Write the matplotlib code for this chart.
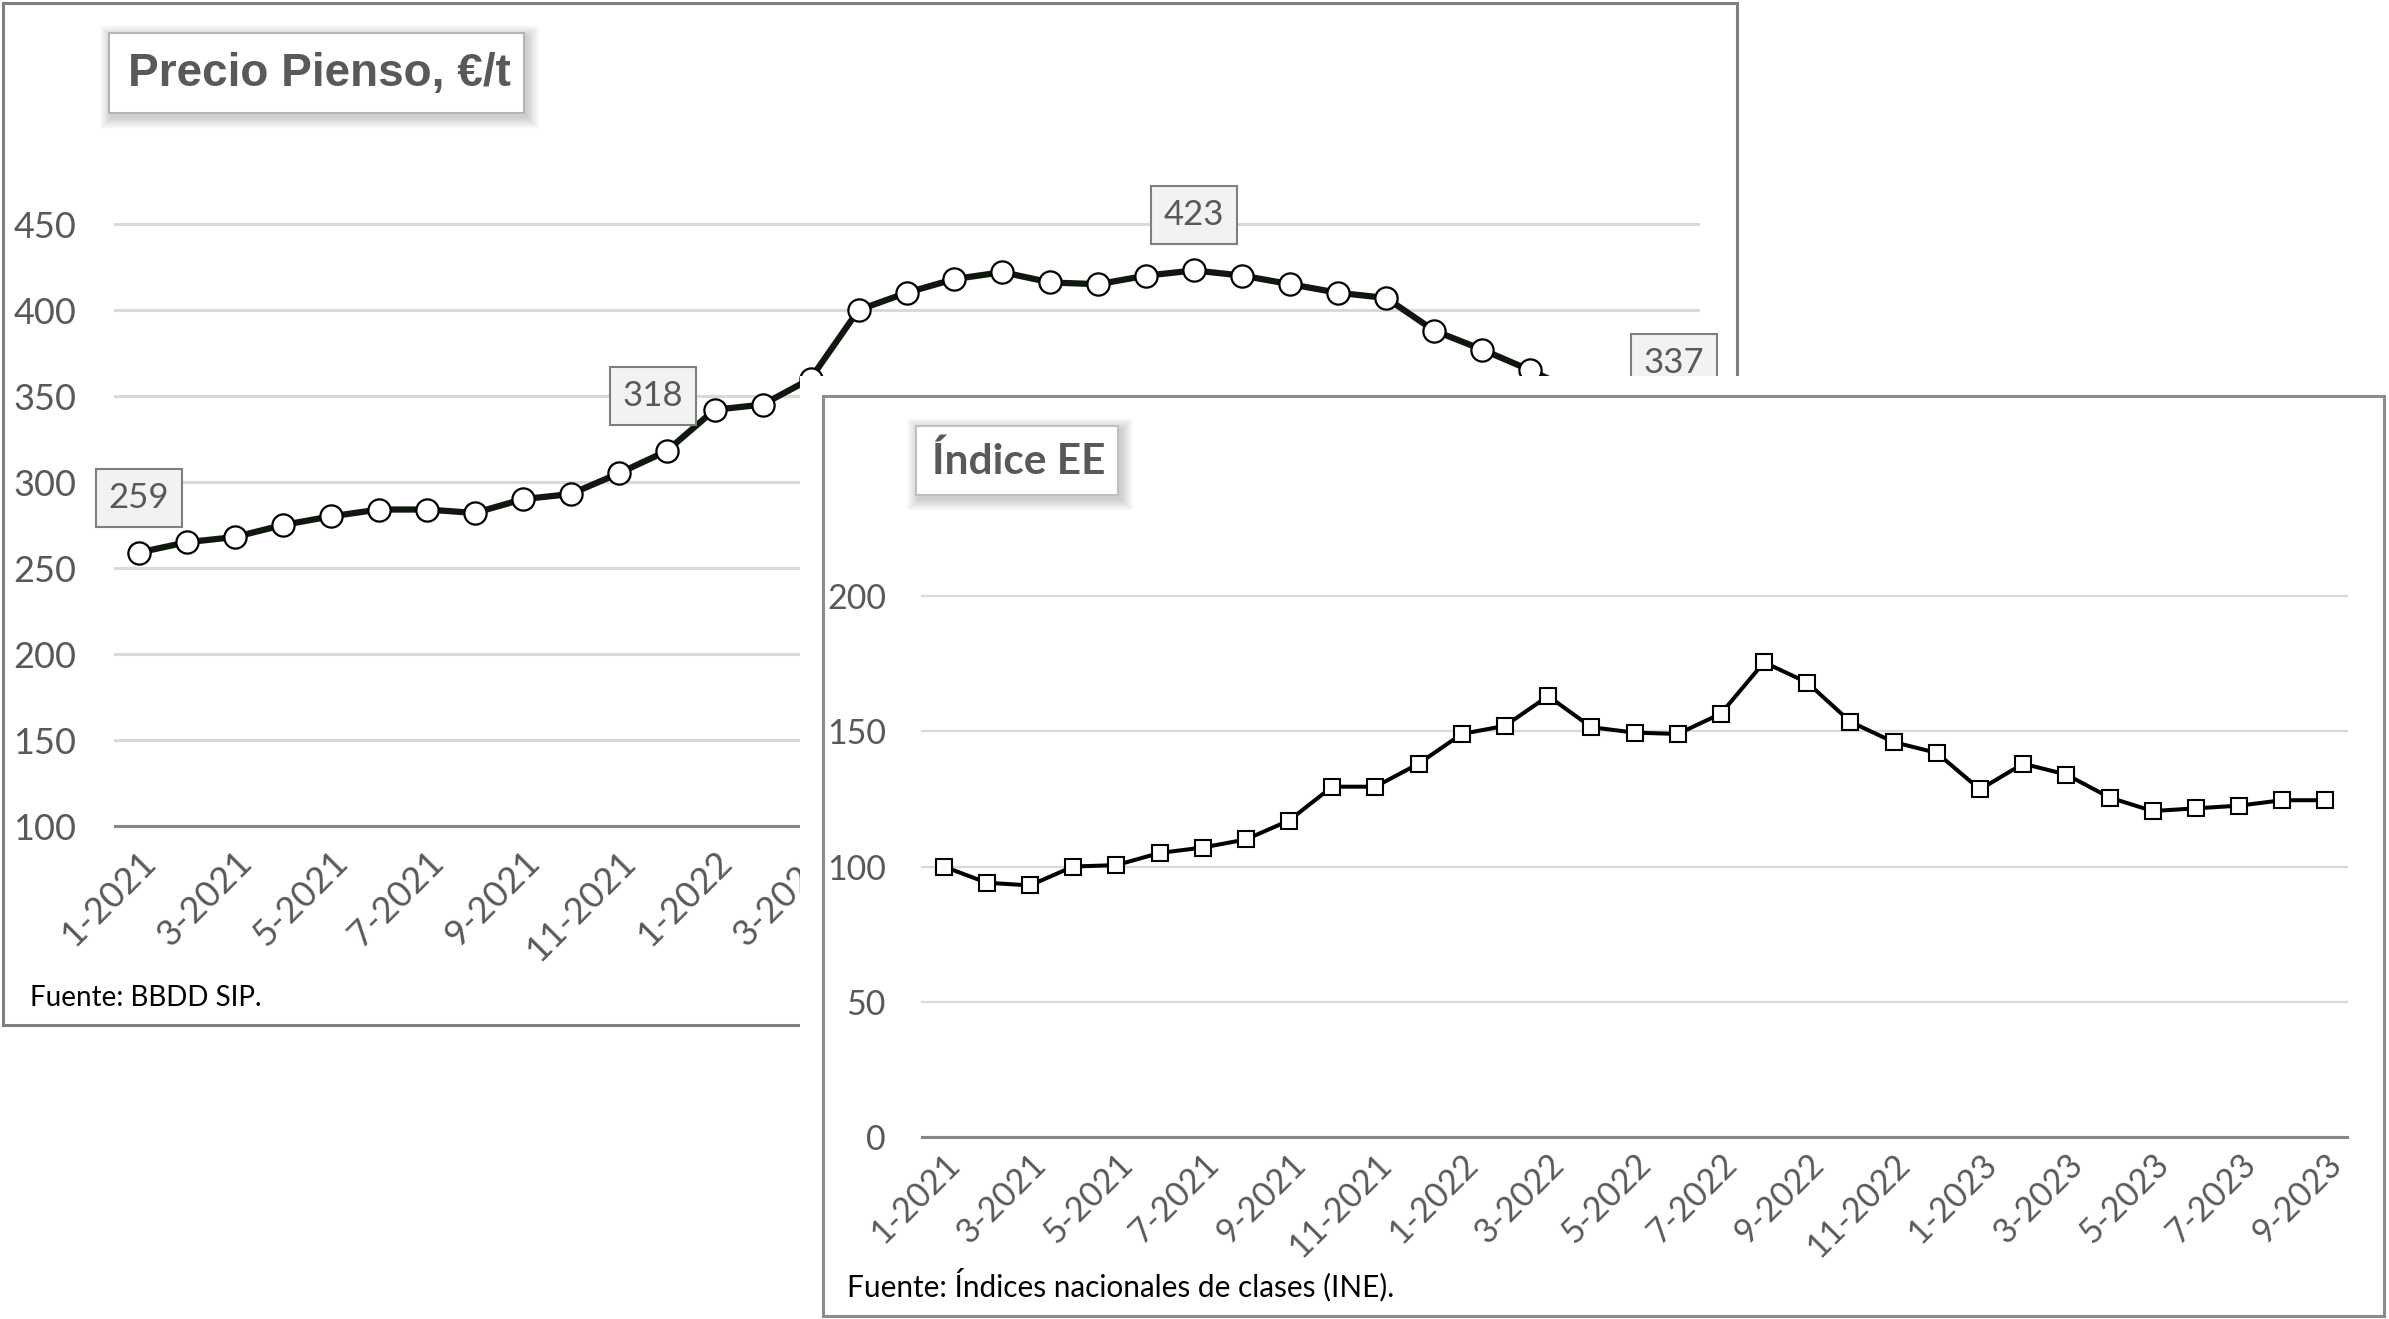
import matplotlib
matplotlib.use("Agg")
import matplotlib.pyplot as plt
from matplotlib.patches import Rectangle

W, H = 2389, 1319

# datos (enero 2021 - septiembre 2023)
precio_pienso = [259, 265, 268, 275, 280, 284, 284, 282, 290, 293, 305, 318,
                 342, 345, 360, 400, 410, 418, 422, 416, 415, 420, 423, 420,
                 415, 410, 407, 388, 377, 365, 352, 344, 337]
indice_ee = [100, 94, 93, 100, 100.5, 105, 107, 110, 117, 129.5, 129.5, 138,
             149, 152, 163, 151.5, 149.5, 149, 156.5, 175.5, 168, 153.5, 146, 142,
             128.5, 138, 134, 125.5, 120.5, 121.5, 122.5, 124.5, 124.5]
tick_labels = ["1-2021", "3-2021", "5-2021", "7-2021", "9-2021", "11-2021",
               "1-2022", "3-2022", "5-2022", "7-2022", "9-2022", "11-2022",
               "1-2023", "3-2023", "5-2023", "7-2023", "9-2023"]
pienso_etiquetas = [0, 11, 22, 32]   # puntos con etiqueta de dato
pienso_yticks = [100, 150, 200, 250, 300, 350, 400, 450]
ee_yticks = [0, 50, 100, 150, 200]

GRIS_TXT = "#595959"
FUENTE = "Lato"


def px_rect(x0, y0, x1, y1):
    # pixeles (origen arriba-izquierda) -> fraccion de figura
    return [x0 / W, 1 - y1 / H, (x1 - x0) / W, (y1 - y0) / H]


fig = plt.figure(figsize=(W / 100, H / 100), dpi=100)


def caja(x0, y0, x1, y1, z, face="white", edge="none", lw=0, sombra=False):
    if sombra:
        for k in range(12, 0, -1):
            fig.add_artist(Rectangle(((x0 - k + 3) / W, 1 - (y1 + k + 4) / H),
                                     (x1 - x0 + 2 * k) / W, (y1 - y0 + 2 * k) / H,
                                     transform=fig.transFigure, facecolor="black",
                                     alpha=0.014, edgecolor="none", zorder=z))
    fig.add_artist(Rectangle((x0 / W, 1 - y1 / H), (x1 - x0) / W, (y1 - y0) / H,
                             transform=fig.transFigure, facecolor=face,
                             edgecolor=edge, linewidth=lw, zorder=z))


def ejes(ax, n, yticks, size, ypad, xpad, gridw):
    ax.set_xlim(-0.5, n - 0.5)
    ax.set_ylim(yticks[0], yticks[-1])
    ax.patch.set_visible(False)
    for s in ["top", "right", "left"]:
        ax.spines[s].set_visible(False)
    ax.spines["bottom"].set_color("#868686")
    ax.spines["bottom"].set_linewidth(2.2)
    ax.set_yticks(yticks)
    ax.set_yticklabels([str(v) for v in yticks], fontfamily=FUENTE, fontsize=size, color=GRIS_TXT)
    ax.set_xticks(range(0, n, 2))
    ax.set_xticklabels(tick_labels, rotation=45, ha="right", va="top",
                       rotation_mode="anchor", fontfamily=FUENTE, fontsize=size, color=GRIS_TXT)
    ax.tick_params(axis="y", length=0, pad=ypad)
    ax.tick_params(axis="x", length=0, pad=xpad)
    ax.grid(axis="y", color="#d9d9d9", linewidth=gridw)
    ax.set_axisbelow(True)
    for gl in ax.get_ygridlines():
        gl.set_clip_on(False)


# ---------------- grafico de atras: Precio Pienso ----------------
ax1 = fig.add_axes(px_rect(115, 224, 1698, 826), zorder=1)
ax1.plot(range(len(precio_pienso)), precio_pienso, color="#0f170f", lw=4.5,
         marker="o", ms=16, mfc="white", mec="black", mew=1.6, clip_on=False, zorder=3)
ejes(ax1, len(precio_pienso), pienso_yticks, 26, 28, 14, 2.2)

caja(3, 3, 1737, 1025, 1.1, face="none", edge="#808080", lw=2.2)
caja(109, 33, 524, 113, 1.3, edge="#b4b4b4", lw=1.5, sombra=True)
fig.text(128 / W, 1 - 74 / H, "Precio Pienso, €/t", family="Liberation Sans",
         weight="bold", size=33, color=GRIS_TXT, va="center", ha="left", zorder=1.4)
fig.text(30 / W, 1 - 1006 / H, "Fuente: BBDD SIP.", family=FUENTE, size=20,
         color="black", va="baseline", ha="left", zorder=1.4)

# la etiqueta del punto 11 esta algo desplazada a la izquierda en el original
desplaza = {11: -14}
for i in pienso_etiquetas:
    cx, cy = ax1.transData.transform((i, precio_pienso[i]))
    cx += desplaza.get(i, 0)
    cy += 55
    fig.add_artist(Rectangle(((cx - 43) / W, (cy - 29) / H), 86 / W, 58 / H,
                             transform=fig.transFigure, facecolor="#f2f2f2",
                             edgecolor="#7f7f7f", linewidth=1.5, zorder=1.5))
    fig.text(cx / W, cy / H, str(precio_pienso[i]), ha="center", va="center",
             family=FUENTE, size=25, color=GRIS_TXT, zorder=1.6)

# ---------------- grafico de delante: Indice EE ----------------
caja(800, 376, W, H, 2)
caja(823, 396, 2384, 1316, 2.1, face="none", edge="#8c8c8c", lw=2.2)
caja(916, 426, 1118, 495, 2.2, edge="#c0c0c0", lw=1.5, sombra=True)
fig.text(932 / W, 1 - 461 / H, "Índice EE", family=FUENTE, weight="bold",
         size=30.5, color=GRIS_TXT, va="center", ha="left", zorder=2.3)
fig.text(847 / W, 1 - 1296 / H, "Fuente: Índices nacionales de clases (INE).",
         family=FUENTE, size=21.4, color="black", va="baseline", ha="left", zorder=2.3)

ax2 = fig.add_axes(px_rect(922, 596, 2347, 1137), zorder=3)
ax2.plot(range(len(indice_ee)), indice_ee, color="black", lw=2.9,
         marker="s", ms=11, mfc="white", mec="black", mew=1.5, clip_on=False, zorder=3)
ejes(ax2, len(indice_ee), ee_yticks, 24.5, 26, 8, 1.6)

fig.savefig("out.png", dpi=100)
